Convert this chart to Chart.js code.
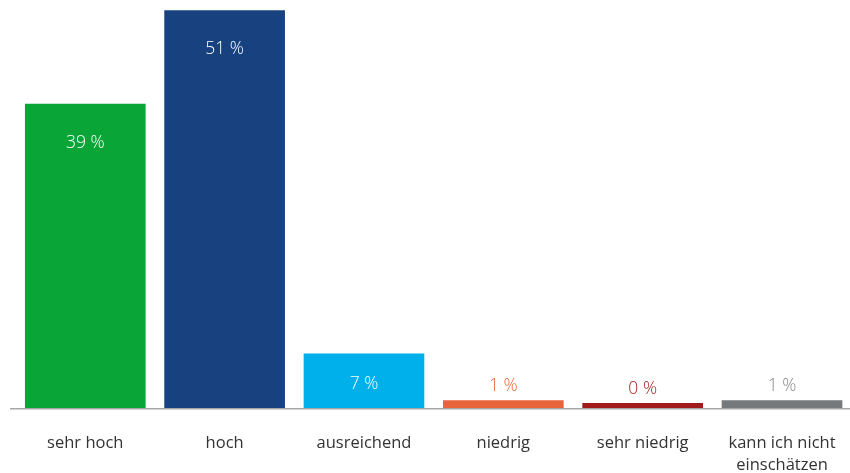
<!DOCTYPE html>
<html lang="de">
<head>
<meta charset="utf-8">
<title>Einschätzung</title>
<script src="https://cdn.jsdelivr.net/npm/chart.js@4/dist/chart.umd.min.js"></script>
<style>
    html, body { margin: 0; padding: 0; background: #fff; overflow: hidden; }
    #wrap { position: relative; width: 860px; height: 476px; }
</style>
</head>
<body>
<div id="wrap"><canvas id="bewertungChart"></canvas></div>
<script>
// Antwortkategorien und Anteile in Prozent
const categories = ['sehr hoch', 'hoch', 'ausreichend', 'niedrig', 'sehr niedrig', ['kann ich nicht', 'einschätzen']];
const shares = [39, 51, 7, 1, 0, 1];
const barColors = ['#0aa537', '#17417f', '#00b0eb', '#e9643a', '#a11b1b', '#75797c'];
const outsideLabelColors = ['#0aa537', '#17417f', '#00b0eb', '#e9643a', '#a8221f', '#85888b'];

const FONT = '"Open Sans", "Noto Sans", sans-serif';

// Werte: in großen Balken weiß innen, bei kleinen Balken darüber in Balkenfarbe
const valueLabels = {
    id: 'valueLabels',
    afterDatasetsDraw(chart) {
        const ctx = chart.ctx;
        const meta = chart.getDatasetMeta(0);
        ctx.save();
        ctx.font = '300 17.5px ' + FONT;
        ctx.textAlign = 'center';
        ctx.textBaseline = 'middle';
        meta.data.forEach((bar, i) => {
            const v = shares[i];
            const h = bar.base - bar.y;
            const text = v + ' %';
            if (v >= 5) {
                ctx.fillStyle = '#ffffff';
                ctx.fillText(text, bar.x, bar.y + Math.min(39, h / 2 + 3));
            } else {
                ctx.fillStyle = outsideLabelColors[i];
                ctx.fillText(text, bar.x, bar.y - 14);
            }
        });
        ctx.restore();
    }
};

// graue Grundlinie unter den Balken
const baseLine = {
    id: 'baseLine',
    afterDatasetsDraw(chart) {
        const ctx = chart.ctx;
        const y = chart.chartArea.bottom + 0.75;
        ctx.save();
        ctx.strokeStyle = '#a7a7a7';
        ctx.lineWidth = 1.5;
        ctx.beginPath();
        ctx.moveTo(10, y);
        ctx.lineTo(850, y);
        ctx.stroke();
        ctx.restore();
    }
};

const ctx = document.getElementById('bewertungChart').getContext('2d');
new Chart(ctx, {
    type: 'bar',
    data: {
        labels: categories,
        datasets: [{
            data: shares,
            backgroundColor: barColors,
            borderWidth: 0,
            minBarLength: 5,
            categoryPercentage: 1,
            barPercentage: 0.866
        }]
    },
    options: {
        responsive: true,
        maintainAspectRatio: false,
        animation: false,
        layout: { padding: { left: 15.6, right: 5.6, top: 0, bottom: 0 } },
        scales: {
            x: {
                grid: { display: false, drawTicks: false },
                border: { display: false },
                ticks: {
                    color: '#333333',
                    padding: 24,
                    maxRotation: 0,
                    autoSkip: false,
                    font: { family: FONT, size: 16.5, weight: '400', lineHeight: '22px' }
                },
                afterFit(scale) {
                    scale.height = 68;
                }
            },
            y: {
                display: false,
                min: 0,
                max: 52.3
            }
        },
        plugins: {
            legend: { display: false },
            tooltip: { enabled: false }
        }
    },
    plugins: [baseLine, valueLabels]
});
</script>
</body>
</html>
